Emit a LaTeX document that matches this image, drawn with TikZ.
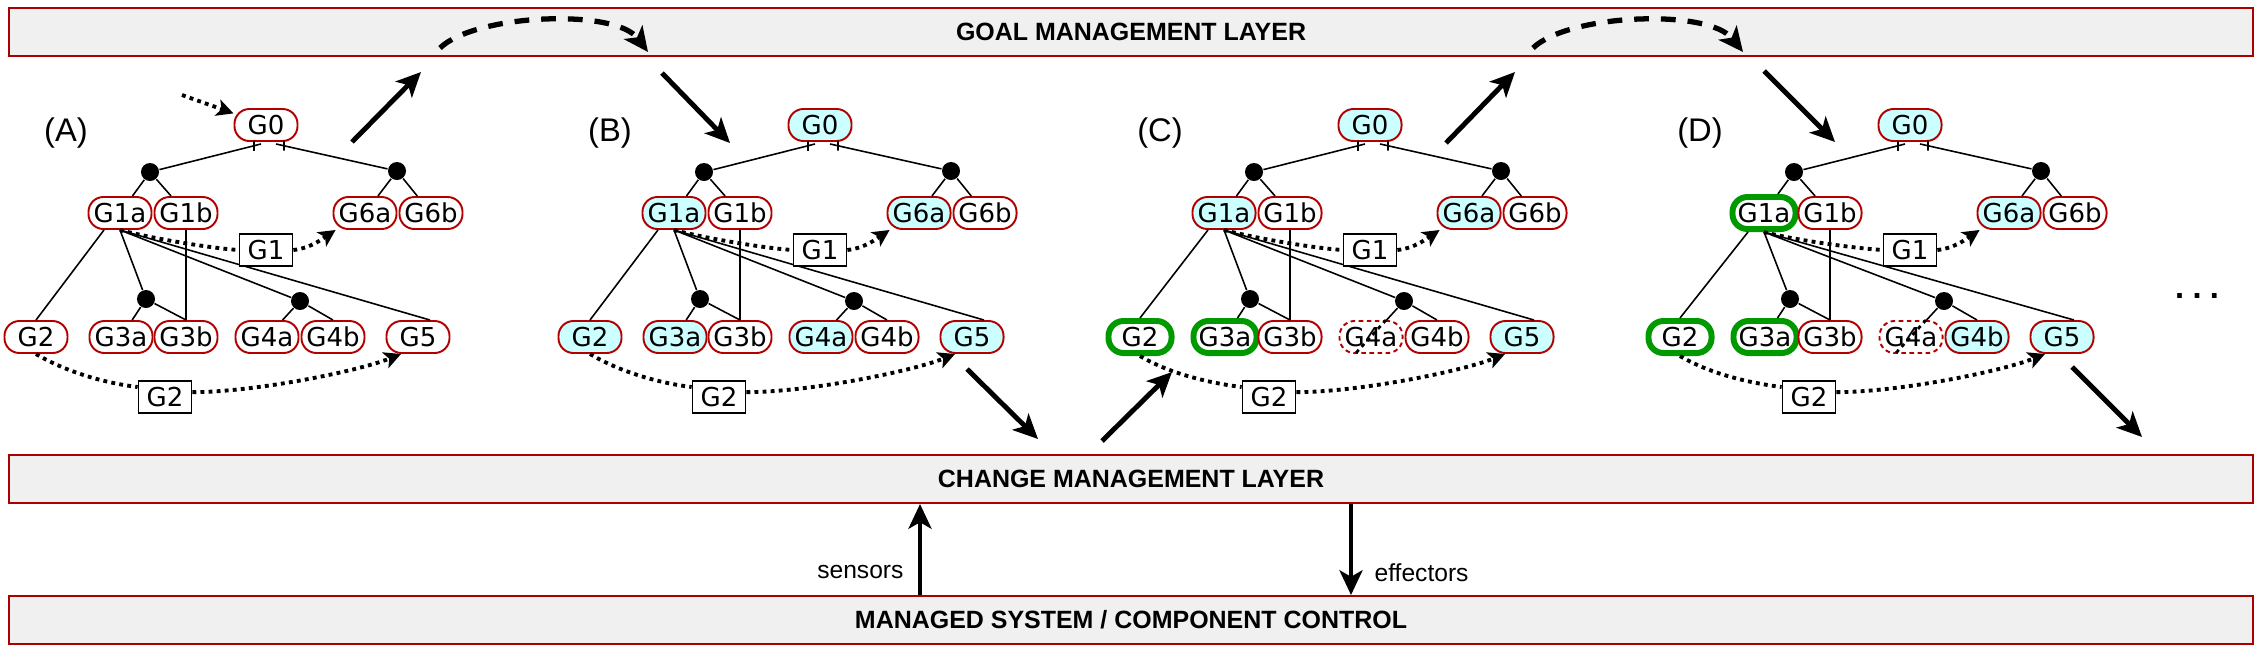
\documentclass[tikz,border=0pt]{standalone}
\usepackage{fontspec}
\setmainfont{Liberation Sans}
\newfontfamily\goalfont{DejaVu Sans}
\usetikzlibrary{arrows.meta, calc}

\definecolor{layerred}{RGB}{170,0,0}
\definecolor{goalred}{RGB}{178,0,0}
\definecolor{reachcyan}{RGB}{204,255,255}
\definecolor{choosegreen}{RGB}{0,153,0}
\definecolor{layergray}{RGB}{240,240,240}

\tikzset{
	layer/.style = {draw=layerred, line width=0.7pt, fill=layergray, minimum width=22.43cm,
		minimum height=0.475cm, inner sep=0, font=\bfseries\fontsize{7.1}{8}\selectfont},
	goal/.style = {draw=goalred, line width=0.55pt, fill=white, rounded corners=0.15cm,
		minimum width=0.63cm, minimum height=0.32cm, inner sep=0, font=\goalfont\fontsize{7.4}{8}\selectfont},
	reached/.style = {fill=reachcyan},
	chosen/.style = {draw=choosegreen, line width=1.7pt},
	dropped/.style = {dash pattern=on 1.3pt off 1pt},
	andjoin/.style = {circle, fill, inner sep=0, minimum size=0.18cm},
	goalbox/.style = {draw, fill=white, line width=0.5pt, minimum width=0.53cm, minimum height=0.32cm,
		inner sep=0, font=\goalfont\fontsize{7.4}{8}\selectfont},
	panel/.style = {font=\fontsize{9.3}{11}\selectfont},
	link/.style = {line width=0.45pt},
	tickmark/.style = {draw, line width=0.4pt, minimum width=0, minimum height=0.1cm, inner sep=0},
	dotline/.style = {line width=1.1pt, dash pattern=on 1.1pt off 1.2pt},
	dotarrow/.style = {dotline, -{Stealth[length=4.8pt, width=4.8pt, inset=1.2pt]}},
	bigarrow/.style = {line width=1.4pt, -{Stealth[length=7pt, width=6.5pt, inset=1.8pt]}},
	bigdashed/.style = {bigarrow, line width=1.5pt, dash pattern=on 4.2pt off 3.4pt},
	% state of each goal, set per panel
	G0/.style = {}, G1a/.style = {}, G1b/.style = {}, G6a/.style = {}, G6b/.style = {},
	G2/.style = {}, G3a/.style = {}, G3b/.style = {}, G4a/.style = {}, G4b/.style = {}, G5/.style = {},
}

% one goal model, node names start with #1
\newcommand{\goaltree}[1]{%
	\node[goal, G0] (#1-g0) at (266,125) {G0};
	\node[goal, G1a] (#1-g1a) at (120,213) {G1a};
	\node[goal, G1b] (#1-g1b) at (186,213) {G1b};
	\node[goal, G6a] (#1-g6a) at (365,213) {G6a};
	\node[goal, G6b] (#1-g6b) at (431,213) {G6b};
	\node[goal, G2] (#1-g2) at (36,337) {G2};
	\node[goal, G3a] (#1-g3a) at (121,337) {G3a};
	\node[goal, G3b] (#1-g3b) at (186,337) {G3b};
	\node[goal, G4a] (#1-g4a) at (267,337) {G4a};
	\node[goal, G4b] (#1-g4b) at (333,337) {G4b};
	\node[goal, G5] (#1-g5) at (418,337) {G5};
	%
	\node[andjoin] (#1-and0) at (150,172) {};
	\node[andjoin] (#1-and6) at (397,171) {};
	\node[andjoin] (#1-and3) at (146,299) {};
	\node[andjoin] (#1-and4) at (300,301) {};
	%
	\draw[link] (#1-and0) -- node[tickmark, pos=.93] {} ($(#1-g0.south)+(-5,2)$);
	\draw[link] (#1-and6) -- node[tickmark, pos=.93] {} ($(#1-g0.south)+(10,2)$);
	\draw[link] (#1-and0) -- (#1-g1a);
	\draw[link] (#1-and0) -- (#1-g1b);
	\draw[link] (#1-and6) -- (#1-g6a);
	\draw[link] (#1-and6) -- (#1-g6b);
	\draw[link] ($(#1-g1a.south)+(-16,0)$) -- (#1-g2.north);
	\draw[link] (#1-g1a.south) -- (#1-and3);
	\draw[link] (#1-g1a.south) -- (#1-and4);
	\draw[link] (#1-g1a.south) -- ($(#1-g5.north)+(12,0)$);
	\draw[link] (#1-and3) -- (#1-g3a);
	\draw[link] (#1-and3) -- (#1-g3b.north);
	\draw[link, line width=0.35pt] (#1-g1b.south) -- (#1-g3b.north);
	\draw[link] (#1-and4) -- (#1-g4a);
	\draw[link] (#1-and4) -- (#1-g4b.north);
	%
	\node[goalbox] (#1-l1) at (266,250) {G1};
	\node[goalbox] (#1-l2) at (165,397) {G2};
	\draw[dotline] (#1-g1a.south) .. controls +(30,8) and +(-30,-2) .. (#1-l1.west);
	\draw[dotarrow] (#1-l1.east) .. controls +(18,-2) and +(-12,8) .. (#1-g6a.-150);
	\draw[dotline] (#1-g2.south) .. controls +(25,15) and +(-40,-5) .. (#1-l2.160);
	\draw[dotarrow] (#1-l2.10) .. controls +(60,0) and +(-45,18) .. (#1-g5.-135);
}

\begin{document}
\begin{tikzpicture}[x=0.01cm, y=-0.01cm]

	\useasboundingbox (0,0) rectangle (2264,654);

	% Layers

	\node[layer] (goal) at (1131,32) {GOAL MANAGEMENT LAYER};
	\node[layer] (change) at (1131,479) {CHANGE MANAGEMENT LAYER};
	\node[layer] (managed) at (1131,620) {MANAGED SYSTEM / COMPONENT CONTROL};

	% Goal models

	\node[panel] (A-lbl) at (66,133) {(A)};
	\node[panel] (B-lbl) at (610,133) {(B)};
	\node[panel] (C-lbl) at (1160,133) {(C)};
	\node[panel] (D-lbl) at (1700,133) {(D)};

	\begin{scope}
		\goaltree{A}
		\coordinate (A-in) at (182,95);
		\draw[dotarrow] (A-in) -- (A-g0);
	\end{scope}

	\begin{scope}[shift={(554,0)}, G0/.style=reached, G1a/.style=reached, G6a/.style=reached,
		G2/.style=reached, G3a/.style=reached, G4a/.style=reached, G5/.style=reached]
		\goaltree{B}
	\end{scope}

	\begin{scope}[shift={(1104,0)}, G0/.style=reached, G1a/.style=reached, G6a/.style=reached,
		G5/.style=reached, G2/.style=chosen, G3a/.style=chosen, G4a/.style=dropped]
		\goaltree{C}
		\draw[dotline, line width=0.8pt] ($(C-g4a.north)+(15,0)$) -- ($(C-g4a.south)+(-16,0)$);
	\end{scope}

	\begin{scope}[shift={(1644,0)}, G0/.style=reached, G6a/.style=reached, G4b/.style=reached,
		G5/.style=reached, G1a/.style=chosen, G2/.style=chosen, G3a/.style=chosen, G4a/.style=dropped]
		\goaltree{D}
		\draw[dotline, line width=0.8pt] ($(D-g4a.north)+(15,0)$) -- ($(D-g4a.south)+(-16,0)$);
	\end{scope}

	\node[font=\goalfont\bfseries\fontsize{7.5}{8}\selectfont] (more) at (2197,296) {.\kern2.1pt.\kern2.1pt.};

	% Steps through the layers

	\coordinate (a-up0) at (352,142);   \coordinate (a-up1) at (421,72);
	\coordinate (ab0) at (440,48);      \coordinate (ab1) at (648,52);
	\coordinate (b-dn0) at (662,73);    \coordinate (b-dn1) at (730,143);
	\coordinate (b-out0) at (967,369);  \coordinate (b-out1) at (1038,439);
	\coordinate (c-in0) at (1102,441);  \coordinate (c-in1) at (1172,372);
	\coordinate (c-up0) at (1446,143);  \coordinate (c-up1) at (1515,72);
	\coordinate (cd0) at (1533,48);     \coordinate (cd1) at (1743,52);
	\coordinate (d-dn0) at (1764,71);   \coordinate (d-dn1) at (1835,142);
	\coordinate (d-out0) at (2072,367); \coordinate (d-out1) at (2142,437);

	\draw[bigarrow] (a-up0) -- (a-up1);
	\draw[bigdashed] (ab0) .. controls (475,14) and (615,8) .. (ab1);
	\draw[bigarrow] (b-dn0) -- (b-dn1);
	\draw[bigarrow] (b-out0) -- (b-out1);
	\draw[bigarrow] (c-in0) -- (c-in1);
	\draw[bigarrow] (c-up0) -- (c-up1);
	\draw[bigdashed] (cd0) .. controls (1568,14) and (1708,8) .. (cd1);
	\draw[bigarrow] (d-dn0) -- (d-dn1);
	\draw[bigarrow] (d-out0) -- (d-out1);

	% Sensors, effectors

	\coordinate (sens) at (920,0);
	\coordinate (eff) at (1351,0);
	\draw[bigarrow] (managed.north -| sens) -- node[pos=.25, left, inner sep=4pt, font=\fontsize{7}{8}\selectfont] {sensors} (change.south -| sens);
	\draw[bigarrow] (change.south -| eff) -- node[pos=.75, right, inner sep=6pt, font=\fontsize{7}{8}\selectfont] {effectors} (managed.north -| eff);

\end{tikzpicture}
\end{document}
